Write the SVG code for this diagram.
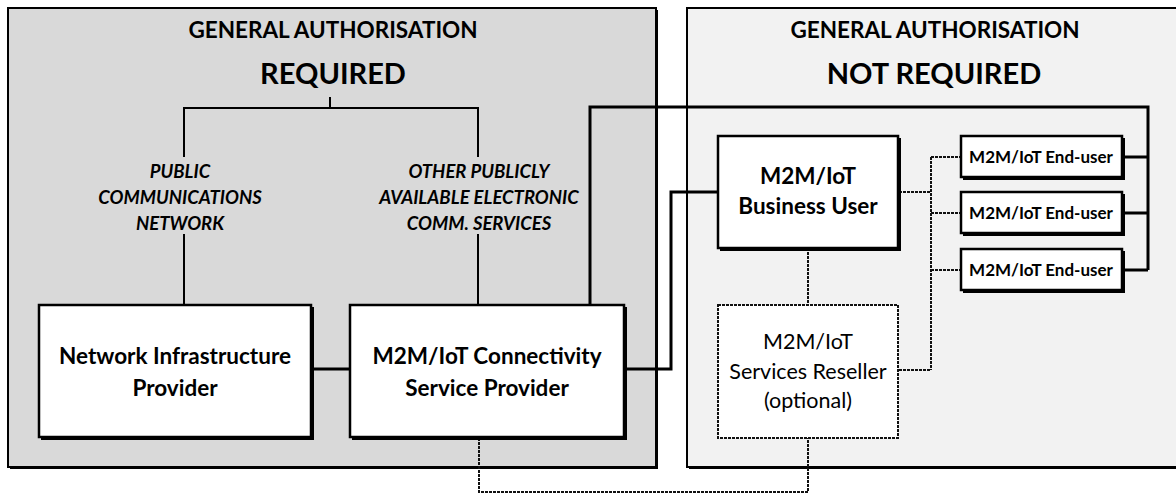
<svg xmlns="http://www.w3.org/2000/svg" width="1176" height="494" viewBox="0 0 1176 494">
<style>
.hd{font-family:Lato,"Liberation Sans",sans-serif;font-weight:bold;fill:#000;text-anchor:middle}
.it{font-family:Lato,"Liberation Sans",sans-serif;font-weight:bold;font-style:italic;font-size:18.5px;fill:#000;text-anchor:middle}
.bx{font-family:Lato,"Liberation Sans",sans-serif;font-weight:bold;font-size:22.5px;fill:#000;text-anchor:middle}
.eu{font-family:Lato,"Liberation Sans",sans-serif;font-weight:bold;font-size:17px;fill:#000;text-anchor:middle}
.rs{font-family:Lato,"Liberation Sans",sans-serif;font-size:21.5px;fill:#000;text-anchor:middle}
.sh{fill:#000}
.box{fill:#fff;stroke:#000;stroke-width:2.5}
.ln{fill:none;stroke:#000;stroke-width:2}
.lnb{fill:none;stroke:#000;stroke-width:3}
.ds{fill:none;stroke:#111;stroke-width:2;stroke-dasharray:3 1}
</style>
<rect width="1176" height="494" fill="#fff"/>
<g id="panel-required">
<rect class="sh" x="10" y="10" width="648" height="459"/>
<rect x="8" y="8" width="648" height="459" fill="#d9d9d9" stroke="#000" stroke-width="2"/>
<text class="hd" x="333" y="38" font-size="22.5">GENERAL AUTHORISATION</text>
<text class="hd" x="333" y="84" font-size="29">REQUIRED</text>
<text class="it" x="180" y="178">PUBLIC</text>
<text class="it" x="180" y="204">COMMUNICATIONS</text>
<text class="it" x="180" y="230">NETWORK</text>
<text class="it" x="479" y="178">OTHER PUBLICLY</text>
<text class="it" x="479" y="204">AVAILABLE ELECTRONIC</text>
<text class="it" x="479" y="230">COMM. SERVICES</text>
</g>
<g id="panel-not-required">
<rect class="sh" x="689" y="10" width="500" height="459"/>
<rect x="687" y="8" width="500" height="459" fill="#f2f2f2" stroke="#000" stroke-width="2"/>
<text class="hd" x="935" y="38" font-size="22.5">GENERAL AUTHORISATION</text>
<text class="hd" x="934" y="84" font-size="29">NOT REQUIRED</text>
</g>
<g id="connectors">
<path class="ln" d="M330 97V108M184 157V108H478V157"/>
<path class="ln" d="M184 234V305M478 234V305"/>
<path class="lnb" d="M312 369H350"/>
<path class="lnb" d="M590 305V107H1148V270"/>
<path class="lnb" d="M625 369H671V192H718"/>
<path class="lnb" d="M1123 157H1148M1123 213H1148M1123 270H1148"/>
<path class="ds" d="M808 248V305"/>
<path class="ds" d="M899 192H931M931 157V370M931 157H961M931 213H961M931 270H961M899 370H931"/>
<path class="ds" d="M479 438V492H808V438"/>
</g>
<g id="network-infrastructure-provider">
<rect class="sh" x="41" y="307" width="273" height="133"/>
<rect class="box" x="39" y="305" width="272" height="132"/>
<text class="bx" x="175" y="364">Network Infrastructure</text>
<text class="bx" x="175" y="396">Provider</text>
</g>
<g id="connectivity-service-provider">
<rect class="sh" x="352" y="307" width="275" height="133"/>
<rect class="box" x="350" y="305" width="274" height="132"/>
<text class="bx" x="487" y="364">M2M/IoT Connectivity</text>
<text class="bx" x="487" y="396">Service Provider</text>
</g>
<g id="business-user">
<rect class="sh" x="720" y="138" width="181" height="113"/>
<rect class="box" x="718" y="136" width="180" height="112"/>
<text class="bx" x="808" y="184" font-size="22px">M2M/IoT</text>
<text class="bx" x="808" y="214" font-size="22px">Business User</text>
</g>
<g id="services-reseller">
<rect x="718" y="305" width="180" height="133" fill="#fff" stroke="#111" stroke-width="2" stroke-dasharray="3 1"/>
<text class="rs" x="808" y="349">M2M/IoT</text>
<text class="rs" x="808" y="379">Services Reseller</text>
<text class="rs" x="808" y="408">(optional)</text>
</g>
<g id="end-user-1">
<rect class="sh" x="963" y="138" width="162" height="42"/>
<rect class="box" x="961" y="136" width="161" height="41"/>
<text class="eu" x="1041" y="163">M2M/IoT End-user</text>
</g>
<g id="end-user-2">
<rect class="sh" x="963" y="194" width="162" height="42"/>
<rect class="box" x="961" y="192" width="161" height="41"/>
<text class="eu" x="1041" y="219">M2M/IoT End-user</text>
</g>
<g id="end-user-3">
<rect class="sh" x="963" y="251" width="162" height="42"/>
<rect class="box" x="961" y="249" width="161" height="41"/>
<text class="eu" x="1041" y="276">M2M/IoT End-user</text>
</g>
</svg>
